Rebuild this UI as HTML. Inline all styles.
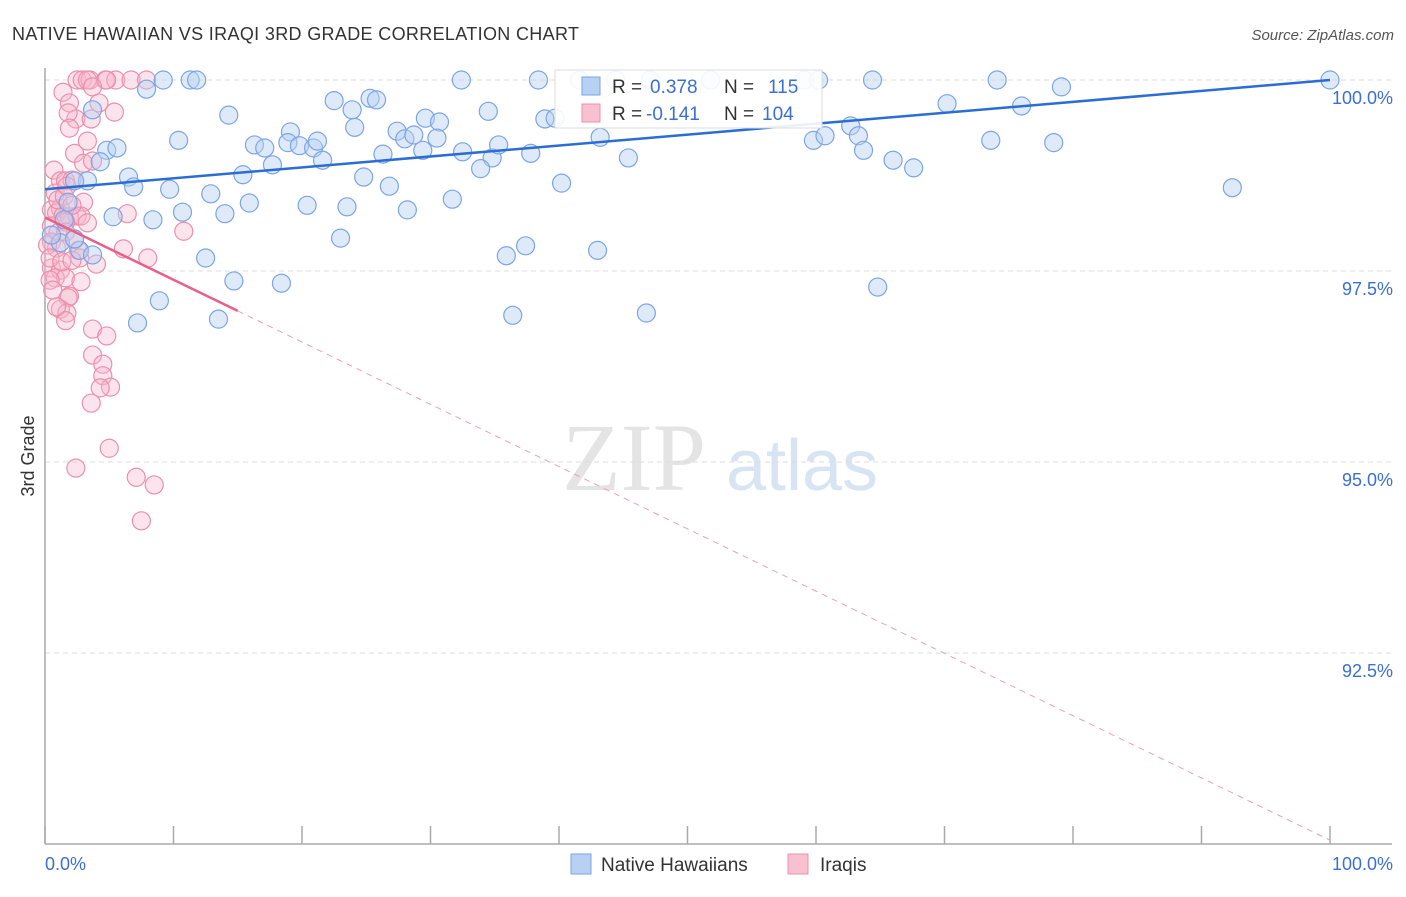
<!DOCTYPE html>
<html><head><meta charset="utf-8">
<style>
body{margin:0;background:#fff;font-family:"Liberation Sans",sans-serif;}
svg text{font-family:"Liberation Sans",sans-serif;}
</style></head>
<body>
<svg id="chart" width="1406" height="892" xmlns="http://www.w3.org/2000/svg">
<text x="12" y="40" font-size="18" fill="#333" textLength="567" lengthAdjust="spacing">NATIVE HAWAIIAN VS IRAQI 3RD GRADE CORRELATION CHART</text>
<text x="1394" y="40" font-size="15" fill="#555" text-anchor="end" font-style="italic">Source: ZipAtlas.com</text>
<g>
<text x="634" y="490" font-size="96" fill="#e4e4e4" text-anchor="middle" font-family="Liberation Serif" style="font-family:'Liberation Serif',serif">ZIP</text>
<text x="802" y="490" font-size="72" fill="#d8e4f4" text-anchor="middle">atlas</text>
</g>
<g id="grid"></g>
<g id="axes"></g>
<g id="pts"></g>
<g id="trends"></g>
<text transform="translate(34,456) rotate(-90)" font-size="18" fill="#333" text-anchor="middle">3rd Grade</text>
<g>
<rect x="555" y="70" width="267" height="58" fill="#fff" fill-opacity="0.9" stroke="#ddd"/>
<rect x="582" y="77" width="18" height="18" fill="#b8d0f2" stroke="#7aa5e6"/>
<text x="612" y="93" font-size="19" fill="#333">R =</text>
<text x="650" y="93" font-size="19" fill="#3b6fd4">0.378</text>
<text x="724" y="93" font-size="19" fill="#333">N =</text>
<text x="768" y="93" font-size="19" fill="#3b6fd4">115</text>
<rect x="582" y="104" width="18" height="18" fill="#f7c1d2" stroke="#ec8fac"/>
<text x="612" y="120" font-size="19" fill="#333">R =</text>
<text x="646" y="120" font-size="19" fill="#3b6fd4">-0.141</text>
<text x="724" y="120" font-size="19" fill="#333">N =</text>
<text x="762" y="120" font-size="19" fill="#3b6fd4">104</text>
</g>
<g>
<rect x="571" y="854" width="20" height="20" fill="#b8d0f2" stroke="#7aa5e6"/>
<text x="601" y="871" font-size="19" fill="#333">Native Hawaiians</text>
<rect x="788" y="854" width="20" height="20" fill="#f7c1d2" stroke="#ec8fac"/>
<text x="820" y="871" font-size="19" fill="#333">Iraqis</text>
</g>
</svg>
<script>
const blueX=[9.2,11.3,11.8,32.4,38.4,41.6,44.4,47.1,51.8,59.1,60.2,64.4,74.1,100,7.9,3.7,14.3,22.5,23.9,25.3,25.8,29.6,30.7,34.5,38.9,39.7,70.2,76.0,79.1,10.4,4.8,5.6,16.3,17.1,19.1,18.9,19.8,20.9,21.2,24.1,26.3,27.4,28.0,28.7,29.4,30.5,32.5,34.8,35.3,37.8,43.2,45.4,59.8,60.7,62.7,63.3,63.7,66.0,67.6,73.6,78.5,4.3,6.5,6.9,9.7,12.9,15.4,17.7,21.6,24.8,26.8,33.9,40.2,92.4,3.3,2.3,1.8,5.3,8.4,10.7,14.0,15.9,20.4,23.5,28.2,31.7,23.0,37.4,35.9,43.0,12.5,14.7,18.4,64.8,8.9,13.5,7.2,36.4,46.8,2.7,1.2,2.3,3.7,0.5,1.5];
const blueY=[100,100,100,100,100,100,100,100,100,100,100,100,100,100,99.88,99.61,99.54,99.73,99.61,99.76,99.74,99.50,99.45,99.59,99.49,99.50,99.69,99.66,99.91,99.21,99.08,99.11,99.15,99.11,99.32,99.18,99.14,99.11,99.20,99.38,99.03,99.33,99.23,99.28,99.08,99.24,99.06,98.98,99.15,99.04,99.25,98.98,99.21,99.27,99.40,99.27,99.08,98.95,98.85,99.21,99.18,98.93,98.73,98.60,98.57,98.51,98.76,98.89,98.95,98.73,98.61,98.84,98.65,98.59,98.68,98.68,98.40,98.21,98.17,98.27,98.25,98.39,98.36,98.34,98.30,98.44,97.93,97.83,97.70,97.77,97.67,97.37,97.34,97.29,97.11,96.87,96.82,96.92,96.95,97.77,97.87,97.92,97.71,97.97,98.17];
const pinkX=[2.5,2.9,3.5,4.7,5.5,6.7,7.9,4.8,3.3,1.4,3.7,1.9,4.2,5.4,2.4,3.6,1.8,1.9,3.3,2.3,3.0,3.7,0.7,1.2,1.6,2.1,0.8,0.5,1.2,3.0,6.4,0.9,1.4,1.9,2.5,2.8,1.6,3.3,10.8,0.5,1.0,1.6,2.3,0.5,0.9,2.6,2.7,4.0,6.1,8.0,0.5,1.2,0.8,1.6,2.8,0.4,1.9,1.8,1.2,1.7,1.6,0.9,3.7,4.8,3.7,4.5,4.5,5.1,4.3,3.6,5.0,2.4,7.1,8.5,7.5,0.2,0.4,1.3,0.6,1.0,1.5,2.1,2.1,1.7];
const pinkY=[100,100,100,100,100,100,100,100,100,99.84,99.91,99.70,99.70,99.58,99.49,99.49,99.57,99.37,99.20,99.04,98.91,98.94,98.82,98.68,98.68,98.69,98.52,98.30,98.32,98.40,98.25,98.26,98.22,98.21,98.22,98.22,98.14,98.13,98.02,98.09,98.00,98.01,97.91,97.88,97.80,97.77,97.67,97.59,97.79,97.67,97.54,97.51,97.41,97.41,97.36,97.38,97.17,97.15,97.00,96.95,96.85,97.03,96.74,96.65,96.40,96.28,96.13,95.98,95.97,95.77,95.18,94.92,94.80,94.70,94.23,97.84,97.67,97.62,97.25,98.43,98.48,97.64,98.36,98.61];
const yTicks=[100,97.5,95,92.5];
const yTickLabels=["100.0%","97.5%","95.0%","92.5%"];
const blueTrend=[98.57,100.0];
const pinkTrend=[98.2,90.05];
const pinkSolidEnd=15;

const NS="http://www.w3.org/2000/svg";
const X0=45,X1=1330,Y100=80,PXPER=76.4;
function sx(v){return X0+(X1-X0)*v/100;}
function sy(v){return Y100+(100-v)*PXPER;}
function mk(tag,attrs,parent){const e=document.createElementNS(NS,tag);for(const k in attrs)e.setAttribute(k,attrs[k]);parent.appendChild(e);return e;}
const grid=document.getElementById('grid'),axes=document.getElementById('axes'),pts=document.getElementById('pts'),tr=document.getElementById('trends');
yTicks.forEach((t,i)=>{
 const l=mk('line',{x1:X0,x2:1392,y1:sy(t),y2:sy(t),stroke:'#ddd','stroke-dasharray':'5,4'},grid);
 
 
 const tx=mk('text',{x:1393,y:sy(t)+24,'font-size':18,fill:'#3b6fd4','text-anchor':'end'},grid);
 tx.textContent=yTickLabels[i];
 
 
});
const ya=mk('line',{x1:X0,x2:X0,y1:68,y2:844,stroke:'#aaa','stroke-width':1.5},axes);


const xa=mk('line',{x1:X0,x2:1392,y1:844,y2:844,stroke:'#aaa','stroke-width':1.5},axes);


for(let i=0;i<=10;i++){
 const t=mk('line',{x1:sx(i*10),x2:sx(i*10),y1:826,y2:844,stroke:'#aaa','stroke-width':1.5},axes);
 
 
}
const xl0=mk('text',{x:45,y:870,'font-size':18,fill:'#3b6fd4'},axes);xl0.textContent='0.0%';


const xl1=mk('text',{x:1393,y:870,'font-size':18,fill:'#3b6fd4','text-anchor':'end'},axes);xl1.textContent='100.0%';


pinkX.forEach((v,i)=>{
 const c=mk('circle',{cx:sx(v),cy:sy(pinkY[i]),r:9,fill:'#f7b8cc','fill-opacity':0.38,stroke:'#ec8fac','stroke-width':1.2},pts);
 
 
});
blueX.forEach((v,i)=>{
 const c=mk('circle',{cx:sx(v),cy:sy(blueY[i]),r:9,fill:'#b8d0f2','fill-opacity':0.45,stroke:'#7aa5e6','stroke-width':1.2},pts);
 
 
});
const bl=mk('line',{x1:sx(0),y1:sy(blueTrend[0]),x2:sx(100),y2:sy(blueTrend[1]),stroke:'#2a6dd4','stroke-width':2.5},tr);


const pe=pinkTrend[0]+(pinkTrend[1]-pinkTrend[0])*pinkSolidEnd/100;
const pl=mk('line',{x1:sx(0),y1:sy(pinkTrend[0]),x2:sx(pinkSolidEnd),y2:sy(pe),stroke:'#e8608a','stroke-width':2.5},tr);


const pd=mk('line',{x1:sx(pinkSolidEnd),y1:sy(pe),x2:sx(100),y2:sy(pinkTrend[1]),stroke:'#eea0b8','stroke-width':1,'stroke-dasharray':'6,5'},tr);


</script>
</body></html>
